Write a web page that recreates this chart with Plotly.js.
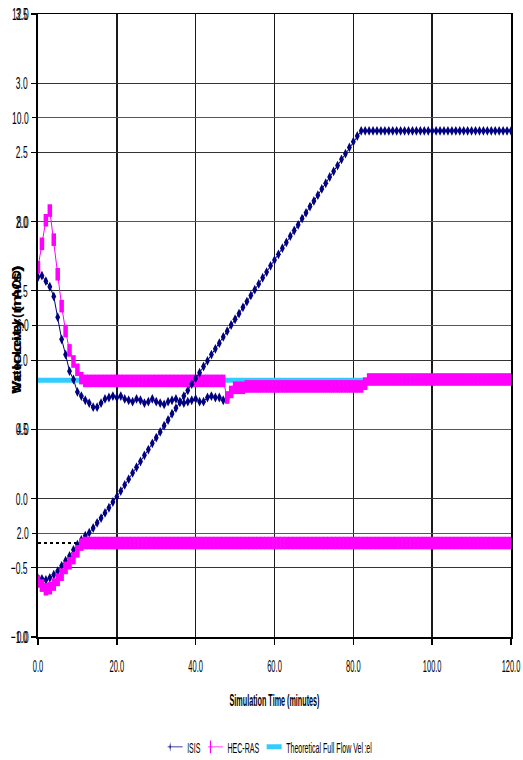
<!DOCTYPE html>
<html>
<head>
<meta charset="utf-8">
<script src="https://cdn.plot.ly/plotly-3.0.1.min.js"></script>
<style>html,body{margin:0;padding:0;background:#fff;}#chart{width:523px;height:760px;}</style>
</head>
<body>
<div id="chart"></div>
<script>
// Simulation time (minutes)
const minutes = [0,1,2,3,4,5,6,7,8,9,10,11,12,13,14,15,16,17,18,19,20,21,22,23,24,25,26,27,28,29,30,31,32,33,34,35,36,37,38,39,40,41,42,43,44,45,46,47,48,49,50,51,52,53,54,55,56,57,58,59,60,61,62,63,64,65,66,67,68,69,70,71,72,73,74,75,76,77,78,79,80,81,82,83,84,85,86,87,88,89,90,91,92,93,94,95,96,97,98,99,100,101,102,103,104,105,106,107,108,109,110,111,112,113,114,115,116,117,118,119,120];

// Velocity (m/s) - left scale -1.0 .. 3.5
const isisVelocity = [
1.60,1.61,1.57,1.53,1.46,1.31,1.15,1.04,0.92,0.86,
0.77,0.74,0.71,0.69,0.66,0.66,0.69,0.72,0.73,0.74,
0.73,0.74,0.72,0.71,0.70,0.72,0.71,0.69,0.70,0.72,
0.70,0.69,0.68,0.70,0.71,0.72,0.70,0.69,0.70,0.71,
0.72,0.70,0.70,0.73,0.74,0.73,0.73,0.71,0.72,0.77,
0.79,0.80,0.80,0.80,0.80,0.80,0.80,0.80,0.80,0.80,
0.80,0.80,0.80,0.80,0.80,0.80,0.80,0.80,0.80,0.80,
0.80,0.80,0.80,0.80,0.80,0.80,0.80,0.80,0.80,0.80,
0.80,0.80,0.80,0.82,0.85,0.86,0.86,0.86,0.86,0.86,
0.86,0.86,0.86,0.86,0.86,0.86,0.86,0.86,0.86,0.86,
0.86,0.86,0.86,0.86,0.86,0.86,0.86,0.86,0.86,0.86,
0.86,0.86,0.86,0.86,0.86,0.86,0.86,0.86,0.86,0.86,
0.86];
const hecVelocity = [
1.67,1.84,2.01,2.08,1.87,1.62,1.39,1.21,1.07,0.99,
0.93,0.87,0.85,0.85,0.85,0.85,0.85,0.85,0.85,0.85,
0.85,0.85,0.85,0.85,0.85,0.85,0.85,0.85,0.85,0.85,
0.85,0.85,0.85,0.85,0.85,0.85,0.85,0.85,0.85,0.85,
0.85,0.85,0.85,0.85,0.85,0.85,0.85,0.85,0.73,0.77,
0.80,0.80,0.80,0.81,0.81,0.81,0.81,0.81,0.81,0.81,
0.81,0.81,0.81,0.81,0.81,0.81,0.81,0.81,0.81,0.81,
0.81,0.81,0.81,0.81,0.81,0.81,0.81,0.81,0.81,0.81,
0.81,0.81,0.81,0.83,0.86,0.86,0.86,0.86,0.86,0.86,
0.86,0.86,0.86,0.86,0.86,0.86,0.86,0.86,0.86,0.86,
0.86,0.86,0.86,0.86,0.86,0.86,0.86,0.86,0.86,0.86,
0.86,0.86,0.86,0.86,0.86,0.86,0.86,0.86,0.86,0.86,
0.86];
const theoryMinutes = [0, 120];
const theoryVelocity = [0.855, 0.855];

// Water level - overlaid scale 0.0 .. 12.0
const isisLevel = [
1.13,1.12,1.10,1.14,1.20,1.27,1.37,1.47,1.56,1.68,
1.78,1.87,1.95,2.01,2.10,2.20,2.29,2.39,2.49,2.60,
2.70,2.81,2.93,3.04,3.16,3.27,3.38,3.50,3.61,3.73,
3.84,3.95,4.07,4.18,4.30,4.41,4.52,4.64,4.75,4.87,
4.98,5.09,5.21,5.32,5.44,5.55,5.66,5.78,5.89,6.01,
6.12,6.23,6.35,6.46,6.58,6.69,6.80,6.92,7.03,7.15,
7.26,7.37,7.49,7.60,7.72,7.83,7.94,8.06,8.17,8.29,
8.40,8.51,8.63,8.74,8.86,8.97,9.08,9.20,9.31,9.43,
9.54,9.65,9.75,9.75,9.75,9.75,9.75,9.75,9.75,9.75,
9.75,9.75,9.75,9.75,9.75,9.75,9.75,9.75,9.75,9.75,
9.75,9.75,9.75,9.75,9.75,9.75,9.75,9.75,9.75,9.75,
9.75,9.75,9.75,9.75,9.75,9.75,9.75,9.75,9.75,9.75,
9.75];
const hecLevel = [
1.07,0.99,0.92,0.94,1.01,1.10,1.20,1.33,1.42,1.52,
1.65,1.78,1.81,1.81,1.81,1.81,1.81,1.81,1.81,1.81,
1.81,1.81,1.81,1.81,1.81,1.81,1.81,1.81,1.81,1.81,
1.81,1.81,1.81,1.81,1.81,1.81,1.81,1.81,1.81,1.81,
1.81,1.81,1.81,1.81,1.81,1.81,1.81,1.81,1.81,1.81,
1.81,1.81,1.81,1.81,1.81,1.81,1.81,1.81,1.81,1.81,
1.81,1.81,1.81,1.81,1.81,1.81,1.81,1.81,1.81,1.81,
1.81,1.81,1.81,1.81,1.81,1.81,1.81,1.81,1.81,1.81,
1.81,1.81,1.81,1.81,1.81,1.81,1.81,1.81,1.81,1.81,
1.81,1.81,1.81,1.81,1.81,1.81,1.81,1.81,1.81,1.81,
1.81,1.81,1.81,1.81,1.81,1.81,1.81,1.81,1.81,1.81,
1.81,1.81,1.81,1.81,1.81,1.81,1.81,1.81,1.81,1.81,
1.81];
const fullFlowMinutes = [0, 11];
const fullFlowLevel = [1.81, 1.81];

const seriesNames = ['ISIS', 'HEC-RAS', 'Theoretical Full Flow Vel\u2009:el'];
const yTitles = ['Water Level (m AOD)', 'Velocity (m/s)'];
const xTitle = 'Simulation Time (minutes)';

const FONT = '"Liberation Sans", Arial, sans-serif';
const NAVY = '#000080';
const MAGENTA = '#FF00FF';
const CYAN = '#33CCFF';

const traces = [
  {x: theoryMinutes, y: theoryVelocity, name: seriesNames[2], mode: 'lines',
   line: {color: CYAN, width: 5}, yaxis: 'y', legendrank: 3},
  {x: minutes, y: isisVelocity, name: seriesNames[0], mode: 'lines+markers',
   line: {color: NAVY, width: 1}, marker: {symbol: 'diamond-tall', size: 7, color: NAVY},
   yaxis: 'y', legendrank: 1},
  {x: minutes, y: hecVelocity, name: seriesNames[1], mode: 'lines+markers',
   line: {color: MAGENTA, width: 1},
   marker: {symbol: 'line-ns', size: 9, color: MAGENTA, line: {color: MAGENTA, width: 4.5}},
   yaxis: 'y', legendrank: 2},
  {x: fullFlowMinutes, y: fullFlowLevel, mode: 'lines', showlegend: false,
   line: {color: '#000000', width: 2, dash: 'dot'}, yaxis: 'y2'},
  {x: minutes, y: isisLevel, mode: 'lines+markers', showlegend: false,
   line: {color: NAVY, width: 1}, marker: {symbol: 'diamond-tall', size: 7, color: NAVY},
   yaxis: 'y2'},
  {x: minutes, y: hecLevel, mode: 'lines+markers', showlegend: false,
   line: {color: MAGENTA, width: 1},
   marker: {symbol: 'line-ns', size: 9, color: MAGENTA, line: {color: MAGENTA, width: 4.5}},
   yaxis: 'y2'}
];

const layout = {
  width: 523, height: 760,
  margin: {l: 38, r: 12, t: 14, b: 123, pad: 0, autoexpand: false},
  paper_bgcolor: '#ffffff', plot_bgcolor: '#ffffff',
  font: {family: FONT, size: 12, color: '#000000'},
  showlegend: true,
  legend: {orientation: 'h', xref: 'container', yref: 'container',
           x: 0.518, xanchor: 'center', y: 0.017, yanchor: 'middle',
           font: {family: FONT, size: 15, color: '#000'}, itemwidth: 30,
           traceorder: 'normal', bgcolor: 'rgba(0,0,0,0)'},
  xaxis: {range: [0, 120], dtick: 20, tick0: 0, tickformat: '.1f',
          showgrid: true, gridcolor: '#1a1a1a', gridwidth: 1.5,
          showline: true, linecolor: '#000', linewidth: 1.5, mirror: true,
          ticks: 'outside', ticklen: 6, tickcolor: '#000', tickwidth: 1.5,
          ticklabelstandoff: 7, ticklabeloverflow: 'allow',
          zeroline: false, automargin: false, tickfont: {family: FONT, size: 17},
          title: {text: '<b>' + xTitle + '</b>', font: {family: FONT, size: 16}, standoff: 20}},
  yaxis: {range: [-1, 3.5], dtick: 0.5, tick0: 0, tickformat: '.1f',
          showgrid: true, gridcolor: '#333333', gridwidth: 1.2,
          showline: true, linecolor: '#000', linewidth: 2, mirror: true,
          ticks: 'outside', ticklen: 5, tickcolor: '#000', tickwidth: 1.2,
          ticklabeloverflow: 'allow',
          zeroline: false, automargin: false, tickfont: {family: FONT, size: 17}},
  yaxis2: {range: [0, 12], dtick: 2, tick0: 0, tickformat: '.1f',
           overlaying: 'y', side: 'left', anchor: 'x',
           showgrid: true, gridcolor: '#555555', gridwidth: 1.2,
           showline: false, ticks: 'outside', ticklen: 5, tickcolor: '#000',
           ticklabeloverflow: 'allow',
           zeroline: false, automargin: false, tickfont: {family: FONT, size: 17}},
  annotations: yTitles.map(t => ({
     xref: 'paper', yref: 'paper', x: -0.044, y: 0.493, xanchor: 'center', yanchor: 'middle',
     textangle: -90, showarrow: false, text: '<b>' + t + '</b>',
     font: {family: FONT, size: 12, color: '#000'}}))
};

function squeeze(gd, sel, f, fixed) {
  gd.querySelectorAll(sel).forEach(t => {
    const w = t.getComputedTextLength();
    if (w > 0) {
      t.setAttribute('textLength', (fixed ? fixed : w * f).toFixed(1));
      t.setAttribute('lengthAdjust', 'spacingAndGlyphs');
    }
  });
}

Plotly.newPlot('chart', traces, layout, {displayModeBar: false, staticPlot: true}).then(gd => {
  // the reference uses a very condensed face; compress text horizontally
  squeeze(gd, '.xtick text', 0.44);
  squeeze(gd, '.ytick text', 0.5);
  squeeze(gd, '.y2tick text', 0.5);
  squeeze(gd, '.g-xtitle text', 0, 90);
  squeeze(gd, '.annotation-text', 0, 128);
  squeeze(gd, '.legendtext', 0.47);
  // re-pack legend items (narrow symbols) and centre the legend
  const items = Array.from(gd.querySelectorAll('.legend .traces'));
  let x = 0;
  items.forEach(g => {
    const m = /translate\(([-\d.]+)[ ,]+([-\d.]+)\)/.exec(g.getAttribute('transform') || '');
    const y = m ? m[2] : 0;
    g.setAttribute('transform', 'translate(' + x + ',' + y + ')');
    const pts = g.querySelectorAll('.legendpoints, .legendlines, .legendsymbols');
    pts.forEach(p => p.setAttribute('transform', 'scale(0.5,1)'));
    const t = g.querySelector('.legendtext');
    t.setAttribute('x', 22);
    x += 22 + parseFloat(t.getAttribute('textLength') || t.getComputedTextLength()) + 5;
  });
  const leg = gd.querySelector('g.legend');
  if (leg) {
    const m = /translate\(([-\d.]+)[ ,]+([-\d.]+)\)/.exec(leg.getAttribute('transform') || '');
    const ly = m ? m[2] : 735;
    leg.setAttribute('transform', 'translate(' + (271 - x / 2) + ',' + ly + ')');
  }
});
</script>
</body>
</html>
